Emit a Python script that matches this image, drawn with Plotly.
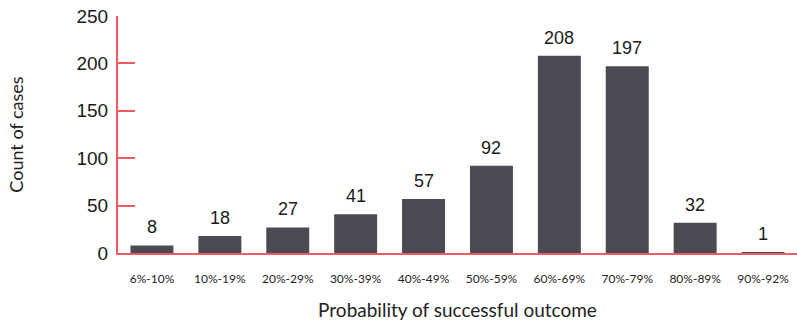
import plotly.graph_objects as go

categories = ["6%-10%", "10%-19%", "20%-29%", "30%-39%", "40%-49%",
              "50%-59%", "60%-69%", "70%-79%", "80%-89%", "90%-92%"]
counts = [8, 18, 27, 41, 57, 92, 208, 197, 32, 1]
y_ticks = [0, 50, 100, 150, 200, 250]

bar_color = "#4B4B53"
axis_color = "#EF5A64"

fig = go.Figure()
fig.add_trace(go.Bar(x=categories, y=counts, marker_color=bar_color,
                     marker_line_width=0, hoverinfo="skip"))

for c, v in zip(categories, counts):
    fig.add_annotation(x=c, y=v, text=str(v), showarrow=False,
                       yanchor="bottom", yshift=6,
                       font=dict(family="Liberation Sans, Arial", size=18, color="#1a1a1a"))

fig.update_layout(
    width=797, height=326,
    margin=dict(l=118, r=0, t=16, b=73),
    paper_bgcolor="white", plot_bgcolor="white",
    bargap=0.367,
    showlegend=False,
    xaxis=dict(
        type="category",
        showline=True, linecolor=axis_color, linewidth=2,
        showgrid=False, ticks="",
        tickfont=dict(family="Lato, Inter, sans-serif", size=12, color="#222"),
        ticklabelstandoff=14,
        title=dict(text="Probability of successful outcome",
                   font=dict(family="Lato, Inter, sans-serif", size=19, color="#222"),
                   standoff=18),
    ),
    yaxis=dict(
        range=[0, 250], tickvals=y_ticks,
        showline=True, linecolor=axis_color, linewidth=2,
        showgrid=False, zeroline=False,
        ticks="inside", ticklen=17, tickcolor=axis_color, tickwidth=1.5,
        tickfont=dict(family="Liberation Sans, Arial", size=19, color="#1a1a1a"),
        ticklabelstandoff=4,
        title=dict(text="Count of cases",
                   font=dict(family="Lato, Inter, sans-serif", size=18, color="#222"),
                   standoff=48),
    ),
)

fig.write_html("out.html")
